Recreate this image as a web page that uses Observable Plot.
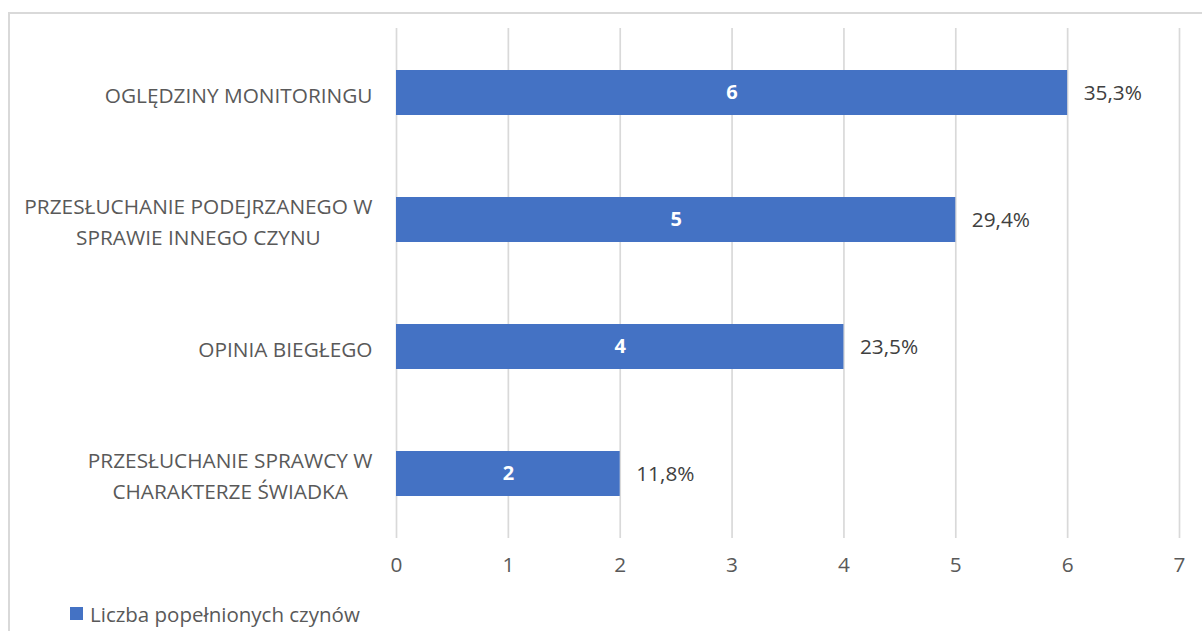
<!DOCTYPE html>
<html>
<head>
<meta charset="utf-8">
<script src="https://cdn.jsdelivr.net/npm/d3@7"></script>
<script src="https://cdn.jsdelivr.net/npm/@observablehq/plot@0.6"></script>
<style>
  html, body { margin: 0; padding: 0; background: #fff; overflow: hidden; width: 1202px; height: 631px; }
  #frame { position: absolute; left: 8px; top: 12px; width: 1400px; height: 800px; border: 2px solid #d9d9d9; box-sizing: border-box; }
  #chart { position: absolute; left: 0; top: 0; }
  #legend { position: absolute; left: 70px; top: 599px; height: 29px; display: flex; align-items: center; font-family: "Open Sans", sans-serif; font-size: 20.5px; color: #595959; }
  #legend .sw { width: 13px; height: 13px; background: #4472C4; margin-right: 7px; }
</style>
</head>
<body>
<div id="frame"></div>
<div id="chart"></div>
<div id="legend"><div class="sw"></div><span>Liczba popełnionych czynów</span></div>
<script>
const categories = [
  "OGLĘDZINY MONITORINGU",
  "PRZESŁUCHANIE PODEJRZANEGO W\nSPRAWIE INNEGO CZYNU",
  "OPINIA BIEGŁEGO",
  "PRZESŁUCHANIE SPRAWCY W\nCHARAKTERZE ŚWIADKA"
];
const counts = [6, 5, 4, 2];
const percents = [35.3, 29.4, 23.5, 11.8];
const xTicks = [0, 1, 2, 3, 4, 5, 6, 7];

const data = categories.map((c, i) => ({cat: c, count: counts[i], pct: percents[i]}));
const fmtPct = v => v.toFixed(1).replace(".", ",") + "%";
const font = "'Open Sans', sans-serif";
const fs = 20.8;

const chart = Plot.plot({
  width: 1202,
  height: 590,
  marginTop: 28,
  marginBottom: 52,
  marginLeft: 396,
  marginRight: 23,
  style: {fontFamily: font, background: "transparent"},
  x: {domain: [0, 7], ticks: xTicks, axis: null},
  y: {domain: categories, paddingInner: 0.647, paddingOuter: 0.3235, axis: null},
  marks: [
    Plot.ruleX(xTicks, {stroke: "#d9d9d9", strokeWidth: 1.7}),
    Plot.axisX(xTicks, {tickSize: 0, tickPadding: 19, fontSize: fs, fill: "#595959", label: null, tickFormat: d => String(d)}),
    Plot.barX(data, {x: "count", y: "cat", fill: "#4472C4"}),
    Plot.text(data, {x: d => d.count / 2, y: "cat", text: d => String(d.count), fill: "white", fontWeight: "bold", fontSize: 20}),
    Plot.text(data, {x: "count", y: "cat", text: d => fmtPct(d.pct), dx: 16, textAnchor: "start", fill: "#404040", fontSize: fs}),
    Plot.text(categories, {y: d => d, text: d => d, frameAnchor: "left", dx: -24, textAnchor: "end", lineHeight: 1.48, fontSize: fs, fill: "#595959", className: "ylab"})
  ]
});
document.getElementById("chart").appendChild(chart);

// center-align lines of multi-line category labels within their right-aligned block
chart.querySelectorAll("g.ylab text").forEach(t => {
  const spans = t.querySelectorAll("tspan");
  if (spans.length > 1) {
    let w = 0;
    spans.forEach(s => { w = Math.max(w, s.getComputedTextLength()); });
    t.setAttribute("text-anchor", "middle");
    const cur = t.getAttribute("transform");
    t.setAttribute("transform", (cur || "") + ` translate(${-w / 2},0)`);
  }
});
</script>
</body>
</html>
